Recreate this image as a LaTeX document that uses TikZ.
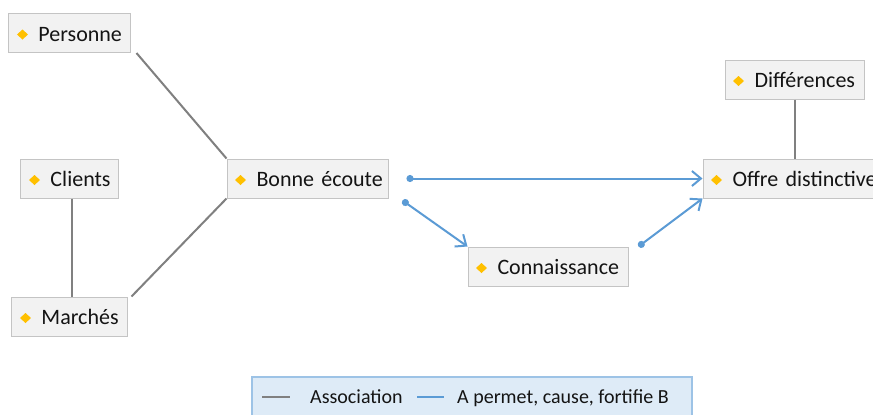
\documentclass[tikz,border=0pt]{standalone}
\usepackage{fontspec}
\setmainfont{Carlito}
\usetikzlibrary{arrows.meta,calc}
\definecolor{boxfill}{HTML}{F2F2F2}
\definecolor{boxline}{HTML}{C4C4C4}
\definecolor{diam}{HTML}{FFC000}
\definecolor{assocgray}{HTML}{808080}
\definecolor{causeblue}{HTML}{5B9BD5}
\definecolor{legfill}{HTML}{DEEBF7}
\definecolor{legline}{HTML}{9DC3E6}
\definecolor{txt}{HTML}{141414}
\begin{document}
\begin{tikzpicture}[x=1bp,y=-1bp,
  box/.style={draw=boxline, fill=boxfill, line width=1bp, inner xsep=0pt, inner ysep=0pt,
    minimum height=39bp, align=left, text=txt, font=\fontsize{22bp}{26bp}\selectfont,
    text height=20bp, text depth=3.4bp,
    path picture={\fill[diam] ([xshift=13.5bp,yshift=-1.5bp]path picture bounding box.west)
      +(-5.5bp,0) -- +(0,5bp) -- +(5.5bp,0) -- +(0,-5bp) -- cycle;}},
  legbox/.style={draw=legline, fill=legfill, line width=1.2bp},
  legtext/.style={inner sep=0pt, text=txt, font=\fontsize{20bp}{24bp}\selectfont},
  assoc/.style={draw=assocgray, line width=2bp},
  cause/.style={draw=causeblue, line width=2bp,
    {Circle[length=7bp]}-{Straight Barb[length=9bp,width=15bp,line width=2bp]}}
]
\clip (0,0) rectangle (873,414);
\fill[white] (0,0) rectangle (873,414);

% nodes
\node[box, text width=121bp] (personne) at (69.5,33) {\hspace*{29.5bp}Personne};
\node[box, text width=97bp] (clients) at (69.5,178.5) {\hspace*{29.5bp}Clients};
\node[box, text width=115bp] (marches) at (69.5,316.5) {\hspace*{29.5bp}Marchés};
\node[box, text width=161bp] (bonne) at (307.5,178.5) {\hspace*{29.5bp}Bonne écoute};
\node[box, text width=160bp] (conn) at (548,266.5) {\hspace*{29.5bp}Connaissance};
\node[box, text width=185bp] (offre) at (795.5,178.5) {\hspace*{29.5bp}Offre distinctive};
\node[box, text width=139bp] (diff) at (794.5,79.5) {\hspace*{29.5bp}Différences};

% association connectors
\draw[assoc] ([xshift=6bp]personne.south east) -- (bonne.north west);
\draw[assoc] ([xshift=2.5bp]clients.south) -- ([xshift=2.5bp]clients.south |- marches.north);
\draw[assoc] ([xshift=4bp]marches.north east) -- (bonne.south west);
\draw[assoc] (diff.south) -- (diff.south |- offre.north);

% cause connectors
\draw[cause] ([xshift=18bp]bonne.east) -- (offre.west);
\draw[cause] ([xshift=14bp,yshift=-2bp]bonne.south east) -- (conn.north west);
\draw[cause] ([xshift=10bp]conn.north east) -- (offre.south west);

% legend
\node[legbox, minimum width=440bp, minimum height=40bp] (legend) at (472,397) {};
\coordinate (la1) at (262,397);
\coordinate (la2) at (290,397);
\draw[assoc] (la1) -- (la2);
\node[legtext, anchor=base west] (lassoc) at (310,403.5) {Association};
\coordinate (lb1) at (417,397);
\coordinate (lb2) at (444,397);
\draw[draw=causeblue, line width=2bp] (lb1) -- (lb2);
\node[legtext, anchor=base west] (lcause) at (457,403.5) {A permet, cause, fortifie B};
\end{tikzpicture}
\end{document}
